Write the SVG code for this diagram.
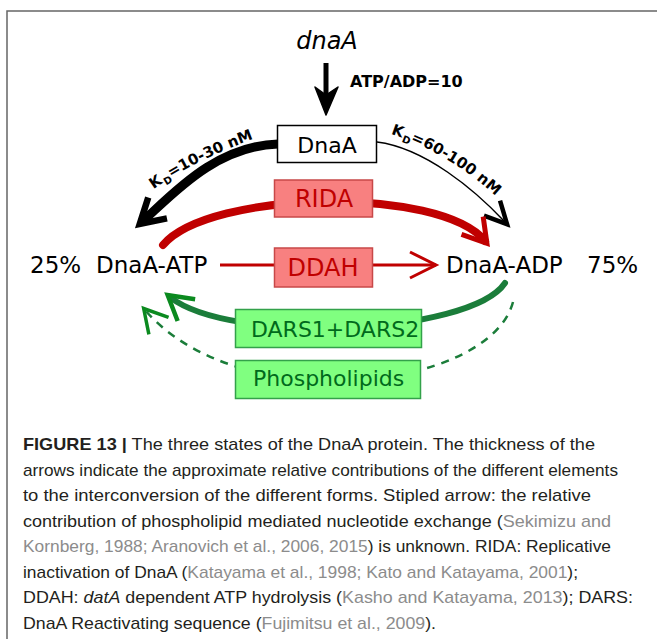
<svg xmlns="http://www.w3.org/2000/svg" xmlns:xlink="http://www.w3.org/1999/xlink" width="657" height="639" viewBox="0 0 657 639">
<style>
.lbl{font-family:"Comic Sans MS","DejaVu Sans",sans-serif;fill:#000}
.kd{font-family:"Comic Sans MS","DejaVu Sans",sans-serif;font-weight:bold;font-size:15px;fill:#000}
.redbox{fill:#f88080;stroke:#c84848;stroke-width:1.5}
.redtxt{font-family:"Comic Sans MS","DejaVu Sans",sans-serif;font-size:24px;fill:#c00000}
.grnbox{fill:#80ff80;stroke:#33a14a;stroke-width:1.5}
.grntxt{font-family:"Comic Sans MS","DejaVu Sans",sans-serif;font-size:22px;fill:#006a1c}
.cap{font-family:"Liberation Sans",Arial,sans-serif;font-size:17px;fill:#231f20}
.cit{fill:#8c8c8c}
.frame{stroke:#666;stroke-width:1.5;fill:none}
</style>
<defs>
<marker id="hBlkThick" markerUnits="userSpaceOnUse" orient="auto" refX="0" refY="0" markerWidth="60" markerHeight="60" overflow="visible">
<path d="M-21,-14 L3,0 L-21,14" fill="none" stroke="#000" stroke-width="6.5"/>
</marker>
<marker id="hBlkThin" markerUnits="userSpaceOnUse" orient="auto" refX="0" refY="0" markerWidth="60" markerHeight="60" overflow="visible">
<path d="M-19,-11 L3,0 L-19,11" fill="none" stroke="#000" stroke-width="4.5"/>
</marker>
<marker id="hRed" markerUnits="userSpaceOnUse" orient="auto" refX="0" refY="0" markerWidth="60" markerHeight="60" overflow="visible">
<path d="M-20,-14 L3,0 L-20,14" fill="none" stroke="#c00000" stroke-width="5"/>
</marker>
<marker id="hRedThin" markerUnits="userSpaceOnUse" orient="auto" refX="0" refY="0" markerWidth="60" markerHeight="60" overflow="visible">
<path d="M-26,-13 L0,0 L-26,13" fill="none" stroke="#c00000" stroke-width="3"/>
</marker>
<marker id="hGrn" markerUnits="userSpaceOnUse" orient="auto" refX="0" refY="0" markerWidth="60" markerHeight="60" overflow="visible">
<path d="M-21,-14 L3,0 L-21,14" fill="none" stroke="#0b8a1f" stroke-width="4.5"/>
</marker>
<marker id="hGrnD" markerUnits="userSpaceOnUse" orient="auto" refX="0" refY="0" markerWidth="60" markerHeight="60" overflow="visible">
<path d="M-21,-13 L2,0 L-21,13" fill="none" stroke="#0b8a1f" stroke-width="3.5"/>
</marker>
<path id="kdL" d="M140,200 Q185,162 270,133"/>
<path id="kdR" d="M385,132 Q450,152 500,200"/>
</defs>

<rect x="0" y="0" width="657" height="639" fill="#fff"/>
<path class="frame" d="M7,639 L7,11 L657,11"/>

<g id="connectors" fill="none">
  <path id="c-gene" d="M326,63 L326,96" stroke="#000" stroke-width="5"/>
  <path d="M315,87 L326,115 L338,87 L326,95 Z" fill="#000" stroke="#000" stroke-width="1.5" stroke-linejoin="round"/>
  <path id="c-kd-atp" d="M278,144 C215,146 172,195 142,222" stroke="#000" stroke-width="9" marker-end="url(#hBlkThick)"/>
  <path id="c-kd-adp" d="M377,142 C425,148 475,190 505,222" stroke="#000" stroke-width="1.5" marker-end="url(#hBlkThin)"/>
  <path id="c-rida" d="M163,245 C210,190 440,186 485,241" stroke="#c00000" stroke-width="8" stroke-linecap="round" marker-end="url(#hRed)"/>
  <path id="c-ddah" d="M220,265 L436,265" stroke="#c00000" stroke-width="3" marker-end="url(#hRedThin)"/>
  <path id="c-dars" d="M505,283 C470,335 230,345 170,297" stroke="#1b7d3a" stroke-width="6" stroke-linecap="round" marker-end="url(#hGrn)"/>
  <path id="c-pl" d="M513,302 C490,390 240,420 145,310" stroke="#1b7d3a" stroke-width="2.5" stroke-dasharray="8,7" marker-end="url(#hGrnD)"/>
</g>

<g id="n-gene"><text class="lbl" x="327" y="49" font-size="24" font-style="italic" text-anchor="middle">dnaA</text></g>
<g id="n-ratio"><text class="lbl" x="350" y="87" font-size="16" font-weight="bold">ATP/ADP=10</text></g>
<g id="n-kd-left"><text class="kd"><textPath href="#kdL" xlink:href="#kdL" startOffset="50%" text-anchor="middle">K<tspan font-size="10" dx="1" dy="4">D</tspan><tspan dy="-4">=10-30 nM</tspan></textPath></text></g>
<g id="n-kd-right"><text class="kd"><textPath href="#kdR" xlink:href="#kdR" startOffset="50%" text-anchor="middle">K<tspan font-size="10" dx="1" dy="4">D</tspan><tspan dy="-4">=60-100 nM</tspan></textPath></text></g>

<g id="n-dnaa">
  <rect x="277.5" y="125.5" width="99" height="37" fill="#fff" stroke="#000" stroke-width="1.5"/>
  <text class="lbl" x="327" y="153" font-size="22" text-anchor="middle">DnaA</text>
</g>
<g id="n-rida">
  <rect class="redbox" x="274.5" y="180" width="98" height="37"/>
  <text class="redtxt" x="324" y="207" text-anchor="middle">RIDA</text>
</g>
<g id="n-ddah">
  <rect class="redbox" x="274.5" y="248" width="98" height="39"/>
  <text class="redtxt" x="323" y="276" text-anchor="middle">DDAH</text>
</g>
<g id="n-atp">
  <text class="lbl" x="30" y="273" font-size="23">25%</text>
  <text class="lbl" x="96" y="273" font-size="23">DnaA-ATP</text>
</g>
<g id="n-adp">
  <text class="lbl" x="446" y="273" font-size="23">DnaA-ADP</text>
  <text class="lbl" x="587" y="273" font-size="23">75%</text>
</g>
<g id="n-dars">
  <rect class="grnbox" x="235.5" y="309.5" width="186" height="38"/>
  <text class="grntxt" x="251" y="337">DARS1+DARS2</text>
</g>
<g id="n-pl">
  <rect class="grnbox" x="235.5" y="360.5" width="185" height="38"/>
  <text class="grntxt" x="253" y="386">Phospholipids</text>
</g>

<g id="caption">
<text class="cap" x="23" y="450" textLength="572" lengthAdjust="spacingAndGlyphs"><tspan font-weight="bold">FIGURE 13 |</tspan> The three states of the DnaA protein. The thickness of the</text>
<text class="cap" x="23" y="475.5" textLength="595" lengthAdjust="spacingAndGlyphs">arrows indicate the approximate relative contributions of the different elements</text>
<text class="cap" x="23" y="501" textLength="568" lengthAdjust="spacingAndGlyphs">to the interconversion of the different forms. Stipled arrow: the relative</text>
<text class="cap" x="23" y="526.5" textLength="588" lengthAdjust="spacingAndGlyphs">contribution of phospholipid mediated nucleotide exchange (<tspan class="cit">Sekimizu and</tspan></text>
<text class="cap" x="23" y="552" textLength="588" lengthAdjust="spacingAndGlyphs"><tspan class="cit">Kornberg, 1988; Aranovich et al., 2006, 2015</tspan>) is unknown. RIDA: Replicative</text>
<text class="cap" x="23" y="577.5" textLength="555" lengthAdjust="spacingAndGlyphs">inactivation of DnaA (<tspan class="cit">Katayama et al., 1998; Kato and Katayama, 2001</tspan>);</text>
<text class="cap" x="23" y="603" textLength="610" lengthAdjust="spacingAndGlyphs">DDAH: <tspan font-style="italic">datA</tspan> dependent ATP hydrolysis (<tspan class="cit">Kasho and Katayama, 2013</tspan>); DARS:</text>
<text class="cap" x="23" y="628.5" textLength="413" lengthAdjust="spacingAndGlyphs">DnaA Reactivating sequence (<tspan class="cit">Fujimitsu et al., 2009</tspan>).</text>
</g>
</svg>
